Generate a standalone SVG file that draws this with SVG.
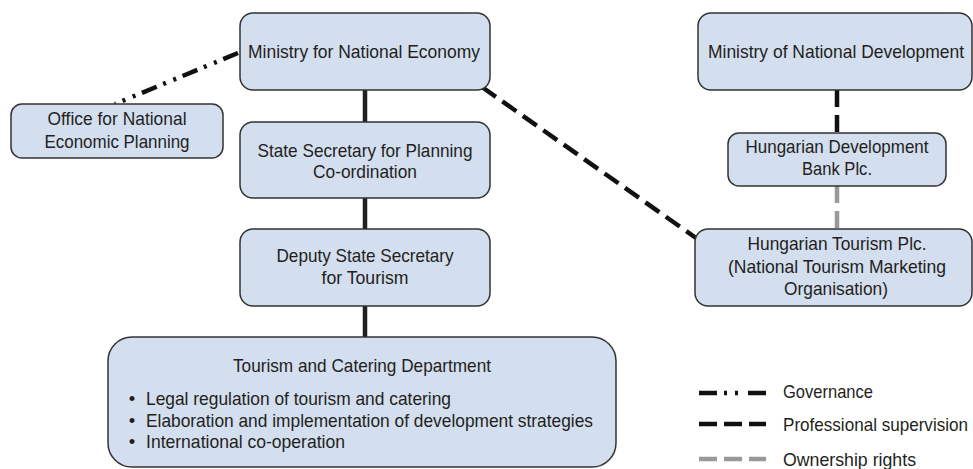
<svg xmlns="http://www.w3.org/2000/svg" width="973" height="469" viewBox="0 0 973 469">
<style>
.box{fill:#d3deef;stroke:#333;stroke-width:1.5}
text{font-family:"Liberation Sans",Arial,sans-serif;font-size:18.5px;fill:#231f20}
.c{text-anchor:middle}
.solid{stroke:#231f20;stroke-width:4.5;fill:none}
.gov{stroke:#111;stroke-width:4.5;fill:none;stroke-dasharray:16 7 3 8 3 7}
.prof{stroke:#111;stroke-width:4.5;fill:none;stroke-dasharray:17 8}
.own{stroke:#999;stroke-width:4.5;fill:none;stroke-dasharray:17 8}
</style>
<rect width="973" height="469" fill="#fff"/>
<g id="connectors">
<line class="solid" x1="365" y1="90" x2="365" y2="122"/>
<line class="solid" x1="365" y1="198" x2="365" y2="229"/>
<line class="solid" x1="365" y1="306" x2="365" y2="337"/>
<line class="gov" x1="238" y1="53" x2="115" y2="104"/>
<line class="prof" x1="482" y1="87" x2="696" y2="238"/>
<line class="prof" x1="837" y1="90" x2="837" y2="133"/>
<line class="own" x1="837" y1="186" x2="837" y2="229"/>
</g>
<g id="ministry-economy">
<rect class="box" x="240" y="13" width="250" height="77" rx="13"/>
<text class="c" x="364" y="58" textLength="232" lengthAdjust="spacingAndGlyphs">Ministry for National Economy</text>
</g>
<g id="office-planning">
<rect class="box" x="11" y="104" width="212" height="54" rx="11"/>
<text class="c" x="117" y="125" textLength="139" lengthAdjust="spacingAndGlyphs">Office for National</text>
<text class="c" x="117" y="148" textLength="145" lengthAdjust="spacingAndGlyphs">Economic Planning</text>
</g>
<g id="state-secretary">
<rect class="box" x="240" y="122" width="250" height="76" rx="13"/>
<text class="c" x="365" y="157" textLength="215" lengthAdjust="spacingAndGlyphs">State Secretary for Planning</text>
<text class="c" x="365" y="178" textLength="104" lengthAdjust="spacingAndGlyphs">Co-ordination</text>
</g>
<g id="deputy-secretary">
<rect class="box" x="240" y="229" width="250" height="77" rx="13"/>
<text class="c" x="365" y="262" textLength="177" lengthAdjust="spacingAndGlyphs">Deputy State Secretary</text>
<text class="c" x="365" y="284" textLength="87" lengthAdjust="spacingAndGlyphs">for Tourism</text>
</g>
<g id="tourism-department">
<rect class="box" x="108" y="337" width="508" height="130" rx="24"/>
<text class="c" x="362" y="372" textLength="258" lengthAdjust="spacingAndGlyphs">Tourism and Catering Department</text>
<text class="c" x="132" y="405">•</text>
<text class="c" x="132" y="427">•</text>
<text class="c" x="132" y="448">•</text>
<text x="146" y="405" textLength="305" lengthAdjust="spacingAndGlyphs">Legal regulation of tourism and catering</text>
<text x="146" y="427" textLength="447" lengthAdjust="spacingAndGlyphs">Elaboration and implementation of development strategies</text>
<text x="146" y="448" textLength="199" lengthAdjust="spacingAndGlyphs">International co-operation</text>
</g>
<g id="ministry-development">
<rect class="box" x="698" y="13" width="274" height="77" rx="13"/>
<text class="c" x="836" y="58" textLength="256" lengthAdjust="spacingAndGlyphs">Ministry of National Development</text>
</g>
<g id="development-bank">
<rect class="box" x="728" y="133" width="218" height="53" rx="11"/>
<text class="c" x="837" y="153" textLength="183" lengthAdjust="spacingAndGlyphs">Hungarian Development</text>
<text class="c" x="837" y="175" textLength="70" lengthAdjust="spacingAndGlyphs">Bank Plc.</text>
</g>
<g id="hungarian-tourism">
<rect class="box" x="695" y="229" width="277" height="77" rx="13"/>
<text class="c" x="837" y="250" textLength="179" lengthAdjust="spacingAndGlyphs">Hungarian Tourism Plc.</text>
<text class="c" x="837" y="273" textLength="218" lengthAdjust="spacingAndGlyphs">(National Tourism Marketing</text>
<text class="c" x="836" y="295" textLength="104" lengthAdjust="spacingAndGlyphs">Organisation)</text>
</g>
<g id="legend">
<line class="gov" x1="699" y1="393" x2="766" y2="393" style="stroke-dasharray:18 7 3 8 3 10 18"/>
<line class="prof" x1="699" y1="424" x2="766" y2="424" style="stroke-dasharray:18 7"/>
<line class="own" x1="699" y1="459" x2="766" y2="459" style="stroke-dasharray:18 7"/>
<text x="783" y="398" textLength="90" lengthAdjust="spacingAndGlyphs">Governance</text>
<text x="783" y="431" textLength="185" lengthAdjust="spacingAndGlyphs">Professional supervision</text>
<text x="783" y="466" textLength="133" lengthAdjust="spacingAndGlyphs">Ownership rights</text>
</g>
</svg>
